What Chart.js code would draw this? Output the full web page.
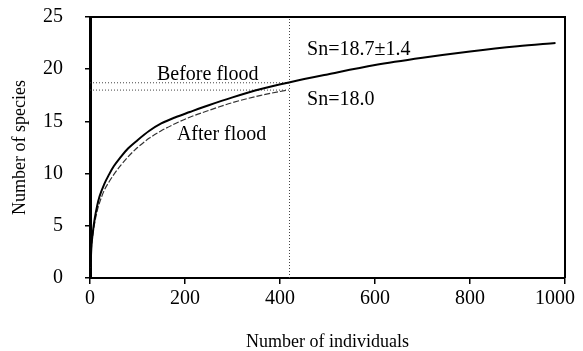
<!DOCTYPE html>
<html>
<head>
<meta charset="utf-8">
<script src="https://cdn.jsdelivr.net/npm/chart.js@4.4.0/dist/chart.umd.min.js"></script>
<style>
  html, body { margin: 0; padding: 0; background: #fff; }
  canvas { display: block; }
</style>
</head>
<body>
<canvas id="rarefactionChart" width="583" height="351"></canvas>
<script>
// rarefaction curves: number of individuals (x) vs expected species (y)
const beforeIndividuals = [1, 3, 6, 10, 15, 20, 30, 40, 50, 65, 80, 100, 125, 150, 180, 210, 250, 300, 360, 421, 500, 600, 700, 800, 900, 980];
const beforeSpecies = [1.0, 3.0, 4.4, 5.7, 6.9, 7.8, 9.0, 9.9, 10.7, 11.6, 12.4, 13.2, 14.1, 14.8, 15.4, 15.9, 16.55, 17.3, 18.1, 18.75, 19.5, 20.4, 21.1, 21.7, 22.2, 22.5];
const afterIndividuals = [1, 3, 6, 10, 15, 20, 30, 40, 50, 65, 80, 100, 125, 150, 180, 210, 250, 300, 360, 415];
const afterSpecies = [1.0, 2.9, 4.1, 5.3, 6.4, 7.2, 8.4, 9.2, 9.9, 10.8, 11.6, 12.5, 13.4, 14.1, 14.8, 15.4, 16.05, 16.8, 17.5, 18.0];

// standardised sample size and Sn values
const sampleSize = 420;
const snBefore = 18.7;
const snAfter = 18.0;

const noteTexts = ["Before flood", "After flood", "Sn=18.7\u00b11.4", "Sn=18.0"];
const noteAnchors = [[141, 19.0], [183, 13.2], [457, 21.4], [457, 16.6]];

const serif = '"Liberation Serif", "Times New Roman", serif';

const toPoints = (xs, ys) => xs.map((v, i) => ({ x: v, y: ys[i] }));

const dotted = {
  borderColor: "#444",
  borderWidth: 1,
  borderDash: [1, 2],
  pointRadius: 0,
  fill: false,
};

const framePlugin = {
  id: "frameAndNotes",
  afterDatasetsDraw(chart) {
    const { ctx, chartArea, scales } = chart;
    ctx.save();
    ctx.strokeStyle = "#000";
    ctx.lineWidth = 2;
    ctx.beginPath();
    ctx.moveTo(chartArea.left, chartArea.top);
    ctx.lineTo(chartArea.right, chartArea.top);
    ctx.lineTo(chartArea.right, chartArea.bottom);
    ctx.stroke();

    ctx.font = "20px " + serif;
    ctx.fillStyle = "#000";
    ctx.textBaseline = "alphabetic";
    noteTexts.forEach((t, i) => {
      ctx.fillText(t, scales.x.getPixelForValue(noteAnchors[i][0]), scales.y.getPixelForValue(noteAnchors[i][1]));
    });
    ctx.restore();
  },
};

const ctx = document.getElementById("rarefactionChart").getContext("2d");
new Chart(ctx, {
  type: "line",
  data: {
    datasets: [
      {
        label: "Before flood",
        data: toPoints(beforeIndividuals, beforeSpecies),
        borderColor: "#000",
        borderWidth: 2,
        pointRadius: 0,
        cubicInterpolationMode: "monotone",
      },
      {
        label: "After flood",
        data: toPoints(afterIndividuals, afterSpecies),
        borderColor: "#333",
        borderWidth: 1.2,
        borderDash: [6, 2],
        pointRadius: 0,
        cubicInterpolationMode: "monotone",
      },
      { ...dotted, label: "Sn before", data: [{ x: 0, y: snBefore }, { x: sampleSize, y: snBefore }] },
      { ...dotted, label: "Sn after", data: [{ x: 0, y: snAfter }, { x: sampleSize, y: snAfter }] },
      { ...dotted, label: "n", data: [{ x: sampleSize, y: 0 }, { x: sampleSize, y: 25 }] },
    ],
  },
  options: {
    responsive: false,
    animation: false,
    devicePixelRatio: 1,
    layout: { padding: { top: 17, right: 18, left: 0, bottom: 0 } },
    plugins: {
      legend: { display: false },
      tooltip: { enabled: false },
    },
    scales: {
      x: {
        type: "linear",
        min: 0,
        max: 1000,
        ticks: {
          stepSize: 100,
          color: "#000",
          padding: 3,
          maxRotation: 0,
          font: { family: serif, size: 20 },
          callback: (v) => {
            if (v % 200 !== 0) return "";
            return v === 1000 ? "1000\u00a0\u00a0\u00a0\u00a0" : String(v);
          },
        },
        grid: { drawOnChartArea: false, color: "#000", tickLength: 6, lineWidth: 1.5 },
        border: { color: "#000", width: 2 },
        title: {
          display: true,
          text: "Number of individuals",
          color: "#000",
          font: { family: serif, size: 18, lineHeight: 1 },
          padding: { top: 0, bottom: 0 },
        },
        afterFit: (scale) => {
          scale.height = 73;
          scale.paddingLeft = 0;
          scale.paddingRight = 0;
        },
      },
      y: {
        min: 0,
        max: 25,
        ticks: {
          stepSize: 5,
          color: "#000",
          padding: 22,
          font: { family: serif, size: 20 },
        },
        grid: { drawOnChartArea: false, color: "#000", tickLength: 5, lineWidth: 1.5 },
        border: { color: "#000", width: 3 },
        title: {
          display: true,
          text: "Number of species",
          color: "#000",
          font: { family: serif, size: 18, lineHeight: 1 },
          padding: { top: 11, bottom: 0 },
        },
        afterFit: (scale) => {
          scale.width = 90;
          scale.paddingTop = 0;
          scale.paddingBottom = 0;
        },
      },
    },
  },
  plugins: [framePlugin],
});
</script>
</body>
</html>
